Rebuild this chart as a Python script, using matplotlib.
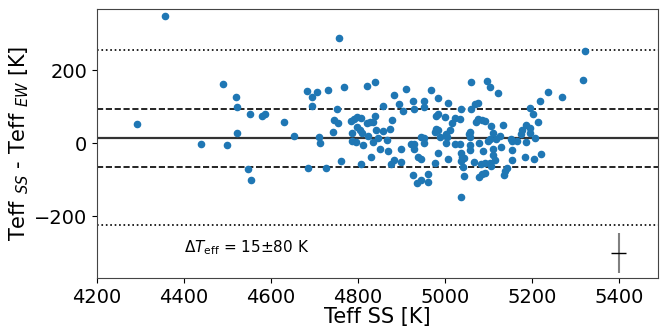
import numpy as np
import matplotlib.pyplot as plt

# Teff from spectral synthesis and the difference to the EW-based Teff
teff_ss = [
    4291, 4356, 4438, 4490, 4500, 4519, 4521, 4523, 4548, 4552,
    4554, 4580, 4586, 4631, 4653, 4757, 5321, 5317, 5269, 5038,
    4683, 4695, 4705, 4731, 4769, 4821, 4839, 4694, 4752, 4711,
    4746, 4755, 4743, 4785, 4791, 4797, 4806, 4798, 4805, 4810,
    4787, 4821, 4828, 4834, 4839, 4823, 4841, 4858, 4874, 4879,
    4857, 4883, 4895, 4903, 4911, 4927, 4951, 4930, 4952, 4945,
    4969, 4985, 5006, 5059, 5097, 5104, 5123, 5237, 5218, 5195,
    5203, 5214, 4984, 4980, 5001, 5023, 5036, 5035, 5017, 5012,
    4979, 4977, 5002, 4989, 5060, 5070, 5075, 5072, 5077, 5086,
    5093, 5105, 5133, 5110, 5057, 5055, 5127, 5103, 5151, 5178,
    5187, 5196, 5195, 5175, 5208, 4985,
    4712, 4685, 4726, 4762, 4786, 4795, 4807, 4811, 4835, 4847,
    4851, 4831, 4867, 4868, 4883, 4876, 4900, 4900, 4921, 4930,
    4929, 4939, 4946, 4926, 4946, 4935,
    4952, 4953, 4962, 4961, 4977, 4984, 5002, 5007, 5005, 5023,
    5035, 5038, 5037, 5042, 5044, 5040, 5045, 5057, 5058, 5057,
    5068, 5078, 5083, 5088, 5093, 5079, 5086, 5093, 5099, 5103,
    5107, 5110, 5110, 5115, 5118, 5129, 5137, 5143, 5136, 5155,
    5155, 5155, 5165, 5187, 5184, 5205, 5221,
]
dteff = [
    54, 349, -2, 162, -5, 128, 99, 29, -72, 79,
    -100, 76, 81, 58, 19, 290, 252, 174, 126, -147,
    142, 128, 140, 147, 154, 158, 169, 103, 93, 17,
    65, 55, 32, 60, 67, 72, 70, 45, 36, 28,
    27, 56, 58, 58, 75, 21, 35, 34, 38, 63,
    101, 131, 109, 88, 149, 115, 115, 94, 99, 16,
    145, 124, 111, 169, 170, 153, 138, 141, 117, 97,
    79, 58, 81, 76, 72, 70, 95, 67, 56, 37,
    39, 31, 25, 17, 95, 109, 110, 58, 67, 65,
    61, 48, 50, 28, 31, 24, 21, 13, 13, 36,
    51, 43, 28, 25, 14, 36,
    2, -67, -67, -48, 6, 4, -57, -4, 4, 15,
    -16, -37, 9, -22, -46, -56, -16, -51, -1, -3,
    -17, -38, -44, -88, -102, -109,
    14, 2, -85, -106, -55, -27, 1, -44, 18, -3,
    -3, -28, -49, -66, -91, -37, -40, 18, -4, -18,
    -51, 2, -58, -22, -55, -94, -84, -83, 5, -53,
    -63, -15, -33, -45, 13, -9, -75, -69, -88, 5,
    -18, -47, 5, 4, -38, -42, -29,
]

mean_off = 15
sigma = 80
typ_err_x = 17
typ_err_y = 55

fig = plt.figure(figsize=(6.6, 3.26), dpi=100)
ax = fig.add_axes([0.147, 0.147, 0.85, 0.825])

ax.scatter(teff_ss, dteff, s=20, color='C0', zorder=3)

ax.axhline(mean_off, color='k', lw=1.6, alpha=0.8)
ax.axhline(mean_off + sigma, color='k', ls='--', lw=1.2)
ax.axhline(mean_off - sigma, color='k', ls='--', lw=1.2)
ax.axhline(mean_off + 3 * sigma, color='k', ls=':', lw=1.2)
ax.axhline(mean_off - 3 * sigma, color='k', ls=':', lw=1.2)

# typical uncertainty
ax.errorbar(5400, -300, yerr=typ_err_y, color='gray', lw=1.5, capsize=0)
ax.errorbar(5400, -300, xerr=typ_err_x, color='k', lw=1, capsize=0)

ax.text(4400, -300, r'$\Delta T_{\rm eff}$ = %d$\pm$%d K' % (mean_off, sigma),
        fontsize=11)

ax.set_xlim(4200, 5490)
ax.set_ylim(-370, 368)
ax.set_xticks([4200, 4400, 4600, 4800, 5000, 5200, 5400])
ax.set_yticks([-200, 0, 200])
ax.tick_params(labelsize=14)
ax.set_xlabel('Teff SS [K]', fontsize=15, labelpad=0)
ax.set_ylabel(r'Teff $_{SS}$ - Teff $_{EW}$ [K]', fontsize=15, labelpad=2)
for sp in ax.spines.values():
    sp.set_color('#444444')

fig.savefig('out.png', dpi=100)
